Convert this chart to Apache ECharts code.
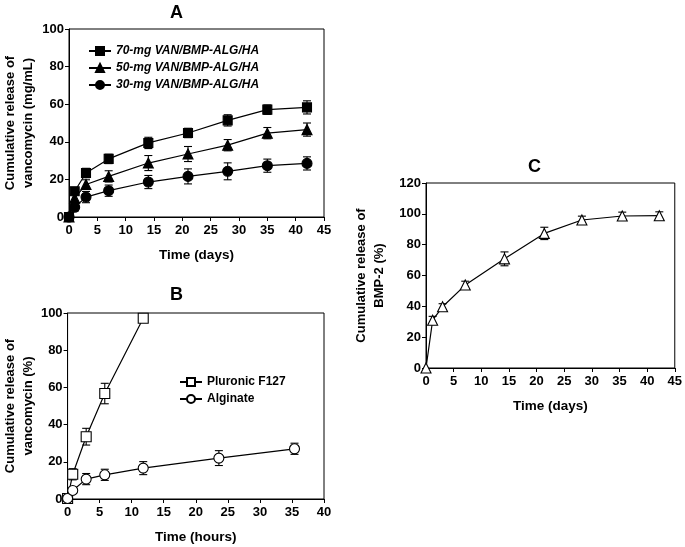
<!DOCTYPE html>
<html>
<head>
<meta charset="utf-8">
<script src="https://cdn.jsdelivr.net/npm/echarts@6/dist/echarts.min.js"></script>
<style>
html,body{margin:0;padding:0;background:#fff;}
#c{width:685px;height:547px;}
</style>
</head>
<body>
<div id="c"></div>
<script>
// Panel A: vancomycin release (mg/mL) vs days
const A_days = [0, 1, 3, 7, 14, 21, 28, 35, 42];
const A70 = [0, 13.7, 23.4, 30.9, 39.4, 44.7, 51.4, 57.1, 58.3];
const A70_err = [0, 2, 2.5, 2.5, 3, 2.5, 3, 2.5, 3.5];
const A50 = [0, 10, 17.3, 21.6, 28.7, 33.5, 38.2, 44.6, 46.5];
const A50_err = [0, 2.5, 2.5, 3, 4, 4, 3, 3, 3.5];
const A30 = [0, 5.2, 10.6, 14, 18.6, 21.6, 24.3, 27.3, 28.5];
const A30_err = [0, 2, 3, 3, 3.5, 4, 4.5, 3.5, 3.5];
const A_names = ['70-mg VAN/BMP-ALG/HA', '50-mg VAN/BMP-ALG/HA', '30-mg VAN/BMP-ALG/HA'];

// Panel B: vancomycin release (%) vs hours
const B_hours_pluronic = [0, 0.8, 2.9, 5.8, 11.8];
const B_pluronic = [0.3, 13.3, 33.5, 56.7, 97.2];
const B_pluronic_err = [0, 3, 4.5, 5.5, 1.5];
const B_hours_alginate = [0, 0.8, 2.9, 5.8, 11.8, 23.6, 35.4];
const B_alginate = [0.3, 4.6, 10.7, 13, 16.6, 22, 27];
const B_alginate_err = [0, 1.5, 3, 3, 3.5, 4, 3];
const B_names = ['Pluronic F127', 'Alginate'];

// Panel C: BMP-2 release (%) vs days
const C_days = [0, 1.2, 3, 7.1, 14.2, 21.4, 28.2, 35.5, 42.2];
const C_bmp = [0, 31, 39.7, 53.8, 70.8, 87.3, 96, 98.6, 98.8];
const C_bmp_err = [0, 2.5, 2, 2.5, 4.5, 4, 2.5, 2.5, 2.5];

const FONT = 'Liberation Sans, Arial, sans-serif';

function pairs(xs, ys) { return xs.map((x, i) => [x, ys[i]]); }
function errData(xs, ys, es) { return xs.map((x, i) => [x, ys[i] - es[i], ys[i] + es[i]]); }

function errSeries(idx, xs, ys, es) {
  return {
    type: 'custom', xAxisIndex: idx, yAxisIndex: idx, silent: true, z: 1,
    clip: false,
    data: errData(xs, ys, es).filter(d => d[2] - d[1] > 0),
    renderItem: function (params, api) {
      const lo = api.coord([api.value(0), api.value(1)]);
      const hi = api.coord([api.value(0), api.value(2)]);
      const w = 4;
      const st = { stroke: '#000', lineWidth: 1.1 };
      return {
        type: 'group',
        children: [
          { type: 'line', shape: { x1: lo[0], y1: lo[1], x2: hi[0], y2: hi[1] }, style: st },
          { type: 'line', shape: { x1: lo[0] - w, y1: lo[1], x2: lo[0] + w, y2: lo[1] }, style: st },
          { type: 'line', shape: { x1: hi[0] - w, y1: hi[1], x2: hi[0] + w, y2: hi[1] }, style: st }
        ]
      };
    }
  };
}

function lineSeries(idx, name, xs, ys, symbol, size, filled) {
  return {
    type: 'line', name: name, xAxisIndex: idx, yAxisIndex: idx,
    data: pairs(xs, ys), symbol: symbol, symbolSize: size, showSymbol: true,
    clip: false, z: 3,
    lineStyle: { color: '#000', width: 1.2 },
    itemStyle: { color: filled ? '#000' : '#fff', borderColor: '#000', borderWidth: 1.1 },
    emphasis: { disabled: true }
  };
}

const xTickLabel = { color: '#000', fontFamily: FONT, fontWeight: 'bold', fontSize: 13, margin: 7 };
const yTickLabel = { color: '#000', fontFamily: FONT, fontWeight: 'bold', fontSize: 13, margin: 5 };
const xNameStyle = { color: '#000', fontFamily: FONT, fontWeight: 'bold', fontSize: 13.5 };
const yNameStyle = { color: '#000', fontFamily: FONT, fontWeight: 'bold', fontSize: 13, lineHeight: 18 };

function xAx(idx, max, name) {
  return {
    type: 'value', gridIndex: idx, min: 0, max: max, interval: 5,
    name: name, nameLocation: 'middle', nameGap: 31, nameTextStyle: xNameStyle,
    axisLine: { lineStyle: { color: '#000', width: 1 } },
    axisTick: { show: true, length: 4, lineStyle: { color: '#000' } },
    axisLabel: xTickLabel, splitLine: { show: false }
  };
}
function yAx(idx, max, interval, name, gap) {
  return {
    type: 'value', gridIndex: idx, min: 0, max: max, interval: interval,
    name: name, nameLocation: 'middle', nameGap: gap, nameRotate: 90, nameTextStyle: yNameStyle,
    axisLine: { lineStyle: { color: '#000', width: 1 } },
    axisTick: { show: true, length: 4, lineStyle: { color: '#000' } },
    axisLabel: yTickLabel, splitLine: { show: false }
  };
}

const titleStyle = { fontFamily: FONT, fontWeight: 'bold', fontSize: 18, color: '#000' };

const option = {
  backgroundColor: '#fff',
  animation: false,
  title: [
    { text: 'A', left: 165, top: -1, textStyle: titleStyle },
    { text: 'B', left: 165, top: 281, textStyle: titleStyle },
    { text: 'C', left: 523, top: 153, textStyle: titleStyle }
  ],
  grid: [
    { left: 66, top: 29, width: 258, height: 188, show: true, borderColor: '#000', borderWidth: 1 },
    { left: 66, top: 313, width: 258, height: 186, show: true, borderColor: '#000', borderWidth: 1 },
    { left: 426, top: 183, width: 251, height: 185, show: true, borderColor: '#000', borderWidth: 1 }
  ],
  xAxis: [
    xAx(0, 45, 'Time (days)'),
    xAx(1, 40, 'Time (hours)'),
    xAx(2, 45, 'Time (days)')
  ],
  yAxis: [
    yAx(0, 100, 20, 'Cumulative release of\nvancomycin (mg/mL)', 32),
    yAx(1, 100, 20, 'Cumulative release of\nvancomycin (%)', 29),
    yAx(2, 120, 20, 'Cumulative release of\nBMP-2 (%)', 38)
  ],
  legend: [
    {
      data: A_names, left: 83, top: 40, orient: 'vertical', itemGap: 5,
      itemWidth: 22, itemHeight: 10, selectedMode: false,
      textStyle: { fontFamily: FONT, fontWeight: 'bold', fontStyle: 'italic', fontSize: 12, color: '#000' }
    },
    {
      data: B_names, left: 174, top: 371, orient: 'vertical', itemGap: 5,
      itemWidth: 22, itemHeight: 10, selectedMode: false,
      textStyle: { fontFamily: FONT, fontWeight: 'bold', fontSize: 12, color: '#000' }
    }
  ],
  series: [
    errSeries(0, A_days, A70, A70_err),
    errSeries(0, A_days, A50, A50_err),
    errSeries(0, A_days, A30, A30_err),
    lineSeries(0, A_names[0], A_days, A70, 'rect', 9, true),
    lineSeries(0, A_names[1], A_days, A50, 'triangle', 10, true),
    lineSeries(0, A_names[2], A_days, A30, 'circle', 10, true),
    errSeries(1, B_hours_pluronic, B_pluronic, B_pluronic_err),
    errSeries(1, B_hours_alginate, B_alginate, B_alginate_err),
    lineSeries(1, B_names[0], B_hours_pluronic, B_pluronic, 'rect', 10, false),
    lineSeries(1, B_names[1], B_hours_alginate, B_alginate, 'circle', 10, false),
    errSeries(2, C_days, C_bmp, C_bmp_err),
    lineSeries(2, 'BMP-2', C_days, C_bmp, 'triangle', 10, false)
  ]
};

const chart = echarts.init(document.getElementById('c'), null, { renderer: 'canvas' });
chart.setOption(option);
</script>
</body>
</html>
